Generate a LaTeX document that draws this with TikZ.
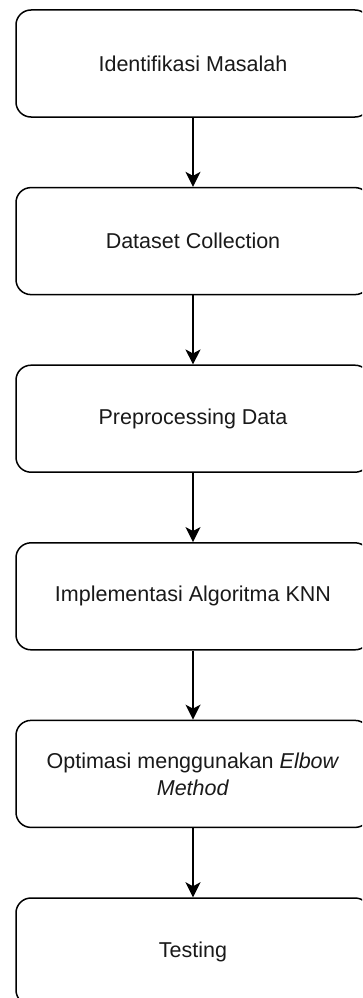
\documentclass[tikz,border=0pt]{standalone}
\usepackage{fontspec}
\setmainfont{Liberation Sans}
\usetikzlibrary{arrows.meta}
\begin{document}
\begin{tikzpicture}[x=1pt,y=-1pt,
  stepbox/.style={draw=black, line width=1.5pt, rounded corners=15pt,
    minimum width=354pt, minimum height=107pt, inner sep=0pt, align=center,
    font=\fontsize{21.5}{25}\selectfont, text=black!90},
  flow/.style={draw=black, line width=1.5pt,
    -{Stealth[length=15pt,width=15pt,inset=4pt]}}]
\useasboundingbox (0,0) rectangle (362,998);
\clip (0,0) rectangle (362,998);
\node[stepbox] (s1) at (193,63.5) {Identifikasi Masalah};
\node[stepbox] (s2) at (193,241.1) {Dataset Collection};
\node[stepbox] (s3) at (193,418.7) {Preprocessing Data};
\node[stepbox] (s4) at (193,596.3) {Implementasi Algoritma KNN};
\node[stepbox] (s5) at (193,773.9) {Optimasi menggunakan \textit{Elbow}\\[2pt]\textit{Method}};
\node[stepbox] (s6) at (193,951.5) {Testing};
\draw[flow] (s1) -- (s2);
\draw[flow] (s2) -- (s3);
\draw[flow] (s3) -- (s4);
\draw[flow] (s4) -- (s5);
\draw[flow] (s5) -- (s6);
\end{tikzpicture}
\end{document}
